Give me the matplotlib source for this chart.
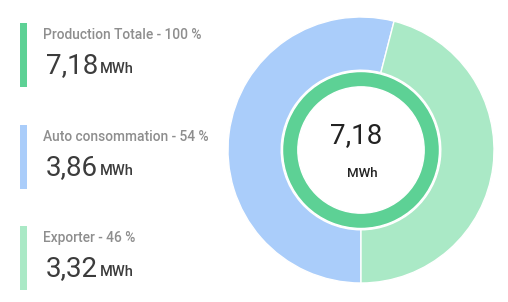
import matplotlib.pyplot as plt
from matplotlib.patches import Rectangle

plt.rcParams['font.family'] = ['Roboto', 'DejaVu Sans']

# donnees
labels = ["Production Totale", "Auto consommation", "Exporter"]
pourcents = [100, 54, 46]
valeurs = ["7,18", "3,86", "3,32"]
unite = "MWh"
couleurs = ["#5dd195", "#aacdfa", "#aae9c6"]

W, H = 508, 302
fig = plt.figure(figsize=(W / 100, H / 100), dpi=100)
fig.patch.set_facecolor("white")

# donut
ax = fig.add_axes([228 / W, 19 / H, 266 / W, 266 / H])
ax.pie(pourcents[1:], colors=couleurs[1:], radius=1, startangle=270,
       counterclock=False, wedgeprops=dict(width=0.40, edgecolor="white", linewidth=1))
ax.pie([pourcents[0]], colors=[couleurs[0]], radius=0.59, startangle=270,
       counterclock=False, wedgeprops=dict(width=0.115, edgecolor="white", linewidth=1))
ax.set_xlim(-1, 1)
ax.set_ylim(-1, 1)
ax.set_aspect("equal")
ax.axis("off")

ax.text(-0.04, 0.05, valeurs[0], ha="center", va="baseline", fontsize=20, color="#222222")
ax.text(0.01, -0.2, unite, ha="center", va="baseline", fontsize=9.5,
        fontweight="medium", color="#222222")

# legende a gauche
tops = [23, 125, 226]
for i in range(3):
    y0 = tops[i]
    fig.add_artist(Rectangle((20 / W, 1 - (y0 + 64) / H), 7 / W, 64 / H,
                             transform=fig.transFigure, color=couleurs[i], lw=0))
    fig.text(43 / W, 1 - (y0 + 16) / H, f"{labels[i]} - {pourcents[i]} %",
             ha="left", va="baseline", fontsize=9.9, fontweight="medium", color="#8e8e8e")
    t = fig.text(46 / W, 1 - (y0 + 50) / H, valeurs[i], ha="left", va="baseline",
                 fontsize=20, color="#3c3c3c")
    fig.canvas.draw()
    bb = t.get_window_extent()
    fig.text((bb.x1 + 2) / W, 1 - (y0 + 50) / H, unite, ha="left", va="baseline",
             fontsize=10.5, fontweight="medium", color="#3c3c3c")

fig.savefig("out.png", dpi=100, facecolor="white")
